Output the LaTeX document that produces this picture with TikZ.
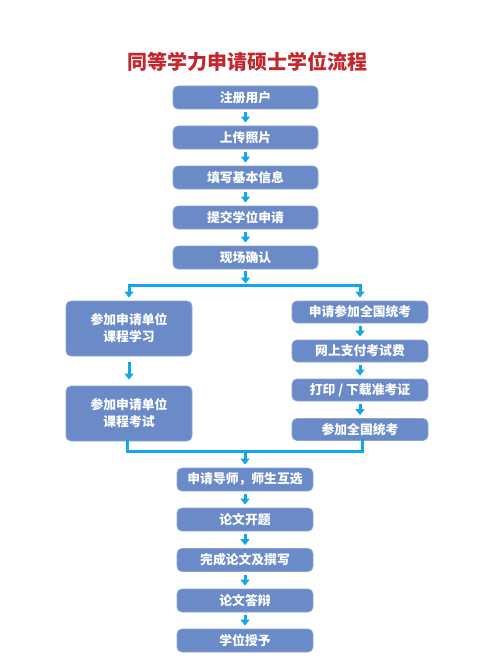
\documentclass[tikz,border=0pt]{standalone}
\usepackage{fontspec}
\newfontfamily\cjk{Noto Sans CJK SC}
\usetikzlibrary{arrows.meta}
\definecolor{boxblue}{HTML}{6A8BC8}
\definecolor{boxedge}{HTML}{8EA6D6}
\definecolor{arrowblue}{HTML}{12A8E8}
\definecolor{titlered}{HTML}{C4262E}
\tikzset{
  box/.style={rectangle, rounded corners=5pt, fill=boxblue, draw=boxedge, line width=0.8pt,
    text=white, font=\cjk\bfseries\fontsize{12.8}{17}\selectfont, align=center, inner sep=0pt},
  topbox/.style={box, minimum width=145pt, minimum height=23pt},
  leftbox/.style={box, minimum width=126pt, minimum height=55pt},
  rightbox/.style={box, minimum width=136pt, minimum height=22pt},
  botbox/.style={box, minimum width=136pt, minimum height=23pt},
  fat/.style={draw=arrowblue, line width=3pt, -{Triangle[width=9pt,length=6pt]}},
  flow/.style={fat, shorten <=3pt, shorten >=3pt},
  bar/.style={draw=arrowblue, line width=3pt}
}
\begin{document}
\begin{tikzpicture}[x=1pt,y=-1pt]
\useasboundingbox (0,0) rectangle (495,666);
\node[font=\cjk\bfseries\fontsize{20}{24}\selectfont, text=titlered] (title) at (247.5,62) {同等学力申请硕士学位流程};

\node[topbox] (t1) at (245.5,97.5) {注册用户};
\node[topbox] (t2) at (245.5,137.5) {上传照片};
\node[topbox] (t3) at (245.5,177.5) {填写基本信息};
\node[topbox] (t4) at (245.5,217.5) {提交学位申请};
\node[topbox] (t5) at (245.5,257.5) {现场确认};

\node[leftbox] (l1) at (129,328.5) {参加申请单位\\课程学习};
\node[leftbox] (l2) at (129,413.5) {参加申请单位\\课程考试};

\node[rightbox] (r1) at (360,312) {申请参加全国统考};
\node[rightbox] (r2) at (360,351) {网上支付考试费};
\node[rightbox] (r3) at (360,390) {打印 / 下载准考证};
\node[rightbox] (r4) at (360,429.5) {参加全国统考};

\node[botbox] (b1) at (245,479.5) {申请导师，师生互选};
\node[botbox] (b2) at (245,519.5) {论文开题};
\node[botbox] (b3) at (245,560) {完成论文及撰写};
\node[botbox] (b4) at (245,600.5) {论文答辩};
\node[botbox] (b5) at (245,640.5) {学位授予};

\draw[flow] (t1) -- (t2);
\draw[flow] (t2) -- (t3);
\draw[flow] (t3) -- (t4);
\draw[flow] (t4) -- (t5);

\coordinate (bl) at (129,285.5);
\coordinate (br) at (360,285.5);
\draw[bar] ([xshift=-1.5pt]bl) -- ([xshift=1.5pt]br);
\draw[fat, shorten <=2pt, shorten >=2pt] (t5.south) -- (t5.south |- bl);
\draw[fat, shorten >=3pt] ([yshift=-1.5pt]bl) -- (l1.north);
\draw[fat, shorten >=3pt] ([yshift=-1.5pt]br) -- (r1.north);

\draw[flow, shorten >=6pt, shorten <=6pt] (l1) -- (l2);
\draw[flow] (r1) -- (r2);
\draw[flow] (r2) -- (r3);
\draw[flow] (r3) -- (r4);

\coordinate (ml) at (127,451.5);
\coordinate (mr) at (362,451.5);
\draw[bar] ([yshift=2pt]l2.south -| ml) -- (ml) -- (mr) -- ([yshift=2pt]r4.south -| mr);
\draw[fat, shorten >=3pt] ([yshift=-1.5pt]b1.north |- ml) -- (b1.north);

\draw[flow] (b1) -- (b2);
\draw[flow] (b2) -- (b3);
\draw[flow] (b3) -- (b4);
\draw[flow] (b4) -- (b5);
\end{tikzpicture}
\end{document}
